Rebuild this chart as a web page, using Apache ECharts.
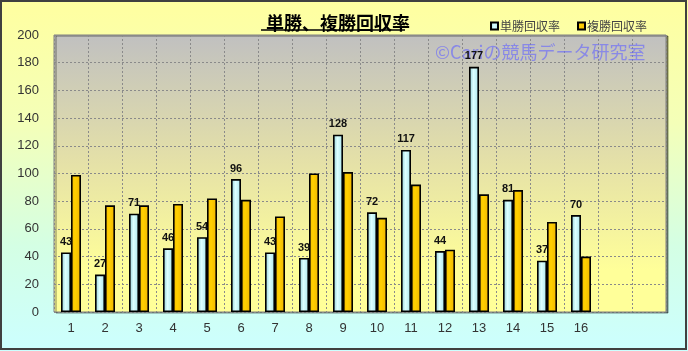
<!DOCTYPE html>
<html>
<head>
<meta charset="utf-8">
<script src="https://cdn.jsdelivr.net/npm/echarts@6/dist/echarts.min.js"></script>
<style>html,body{margin:0;padding:0;}#c{width:688px;height:351px;}</style>
</head>
<body>
<div id="c"></div>
<script>
var categories = ['1','2','3','4','5','6','7','8','9','10','11','12','13','14','15','16','',''];
var tanshoValues = [43,27,71,46,54,96,43,39,128,72,117,44,177,81,37,70];
var fukushoValues = [99,77,77,78,82,81,69,100,101,68,92,45,85,88,65,40];
var yTicks = {min:0, max:200, interval:20};
var titleText = '単勝、複勝回収率';
var seriesNames = ['単勝回収率','複勝回収率'];
var watermark = '©Cariの競馬データ研究室';

var chart = echarts.init(document.getElementById('c'), null, {renderer:'canvas'});
var G = echarts.graphic;
var option = {
  animation:false,
  backgroundColor: new G.LinearGradient(0,0,0,1,[
    {offset:0,color:'#ffffa0'},{offset:0.35,color:'#f4ffb8'},{offset:0.7,color:'#d4ffe4'},{offset:1,color:'#ccffff'}]),
  textStyle:{fontFamily:'Liberation Sans, Noto Sans CJK JP'},
  title:{
    text:titleText, left:333, top:9, textAlign:'center',
    textStyle:{fontSize:18,fontWeight:'bold',color:'#000',fontFamily:'Noto Sans CJK JP'}
  },
  legend:{
    data:seriesNames, left:485, top:15, itemWidth:7, itemHeight:7, itemGap:17,
    icon:'rect',
    textStyle:{fontSize:12,color:'#444',fontFamily:'Noto Sans CJK JP',padding:[0,0,0,-3]}
  },
  grid:{
    left:54, right:22, top:35, bottom:39, show:true,
    backgroundColor:new G.LinearGradient(0,0,0,1,[
      {offset:0,color:'#c0c0c0'},{offset:0.45,color:'#e4e0a8'},{offset:0.85,color:'#ffff99'},{offset:1,color:'#ffff99'}]),
    borderColor:'#808080', borderWidth:1,
    shadowColor:'rgba(0,0,0,0.45)', shadowOffsetX:2, shadowOffsetY:1, shadowBlur:0
  },
  xAxis:{
    type:'category', data:categories,
    axisLine:{show:false}, axisTick:{show:false},
    axisLabel:{color:'#333',fontSize:13,margin:10},
    splitLine:{show:true,lineStyle:{color:'#8a8a8a',type:[2,2],width:1}}
  },
  yAxis:{
    type:'value', min:yTicks.min, max:yTicks.max, interval:yTicks.interval,
    axisLine:{show:false}, axisTick:{show:false},
    axisLabel:{color:'#333',fontSize:13,margin:15},
    splitLine:{show:true,lineStyle:{color:'#8a8a8a',type:[2,2],width:1}}
  },
  series:[
    {
      name:seriesNames[0], type:'bar', data:tanshoValues, barWidth:10, barGap:'0%', z:3,
      itemStyle:{
        color:new G.LinearGradient(0,0,1,0,[
          {offset:0,color:'#8ccbd4'},{offset:0.45,color:'#dcffff'},{offset:1,color:'#a8e4ec'}]),
        borderColor:'#000', borderWidth:1.6
      },
      label:{show:true,position:'top',distance:5,color:'#111',fontSize:11,fontWeight:'bold',fontFamily:'Liberation Sans'}
    },
    {
      name:seriesNames[1], type:'bar', data:fukushoValues, barWidth:10, barGap:'0%', z:3,
      itemStyle:{
        color:new G.LinearGradient(0,0,1,0,[
          {offset:0,color:'#f2b800'},{offset:0.4,color:'#ffd000'},{offset:1,color:'#f0b400'}]),
        borderColor:'#000', borderWidth:1.6
      }
    }
  ],
  graphic:[
    {type:'rect', shape:{x:1,y:1,width:685,height:348}, style:{fill:'none',stroke:'#404040',lineWidth:2}, z:100},
    {type:'line', shape:{x1:261,y1:30,x2:405,y2:30}, style:{stroke:'#000',lineWidth:1.5}, z:100},
    {type:'text', x:435, y:43, z:2, style:{text:watermark, font:'18px "Noto Sans CJK JP"', fill:'rgba(100,100,255,0.62)'}}
  ]
};
chart.setOption(option);
</script>
</body>
</html>
